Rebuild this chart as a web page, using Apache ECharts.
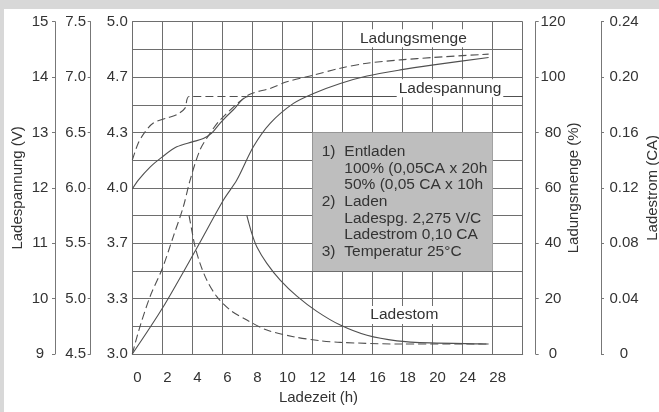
<!DOCTYPE html>
<html><head><meta charset="utf-8">
<script src="https://cdn.jsdelivr.net/npm/echarts@6/dist/echarts.min.js"></script>
<style>html,body{margin:0;padding:0;background:#fff}#c{width:659px;height:412px}</style>
</head><body><div id="c"></div>
<script>
// ---- tick labels ----
const xTickLabels = ['0','2','4','6','8','10','12','14','16','18','20','24','28'];
const gridTickLabels = ['3.0','','3.3','','3.7','','4.0','','4.3','','4.7','','5.0'];

// ---- Ladespannung (V) ----
const tVolt100 = [0, 0.4, 1.2, 2, 2.96, 4, 4.73, 5.29, 5.85, 6.73, 7.73, 26];
const volt100  = [11.98, 12.14, 12.38, 12.56, 12.74, 12.83, 12.89, 12.99, 13.17, 13.41, 13.65, 13.65];
const tVolt50  = [0, 0.4, 0.85, 1.4, 2.29, 2.96, 3.51, 3.78, 7.73];
const volt50   = [12.50, 12.81, 13.01, 13.17, 13.26, 13.32, 13.44, 13.65, 13.65];

// ---- Ladungsmenge (%) ----
const tCharge100 = [0, 2, 4.29, 6.07, 6.96, 8.07, 9.18, 10.73, 12.07, 13.85, 15.63, 17.85, 20.07, 23.73];
const charge100  = [0, 16.5, 38.2, 55.6, 62.8, 74.9, 83.3, 90.5, 94.1, 97.7, 100.4, 102.6, 104.4, 107.1];
const tCharge50  = [0, 0.51, 1.18, 2, 2.73, 3.4, 3.85, 4.51, 5.18, 5.85, 7.73, 9.18, 10.29, 12.07, 13.85, 15.63, 17.85, 20.07, 23.73];
const charge50   = [0, 9.9, 20.7, 30.9, 42.4, 53.2, 62.8, 73.7, 79.7, 84.5, 93.5, 95.9, 98.3, 100.7, 103.2, 105, 106.2, 107.1, 108.3];

// ---- Ladestrom (CA) ----
const tCurrent100 = [7.63, 7.96, 8.29, 8.96, 9.85, 10.96, 12.29, 13.85, 15.63, 17.63, 19.85, 23.18, 23.73];
const current100  = [0.1, 0.0871, 0.0775, 0.0655, 0.0534, 0.0418, 0.0308, 0.0209, 0.0135, 0.0095, 0.0080, 0.0073, 0.0072];
const tCurrent50  = [3.78, 3.96, 4.18, 4.51, 4.96, 5.63, 6.51, 7.63, 8.96, 10.73, 12.51, 13.85, 17.85, 23.73];
const current50   = [0.1, 0.0895, 0.0775, 0.0655, 0.0534, 0.0414, 0.0318, 0.0245, 0.0173, 0.0125, 0.0096, 0.0084, 0.0072, 0.0072];

// ---- annotation texts ----
const noteLines = [
  ['1)', 'Entladen'],
  ['', '100% (0,05CA x 20h'],
  ['', '50% (0,05 CA x 10h'],
  ['2)', 'Laden'],
  ['', 'Ladespg. 2,275 V/C'],
  ['', 'Ladestrom 0,10 CA'],
  ['3)', 'Temperatur 25°C']
];

const FONT = '"Liberation Sans", Arial, Helvetica, sans-serif';
const TXT = '#333';
const GRID = '#6e6e6e';
const AXC = '#777';
const CURVE = '#505050';
const FS = 15;

const zip = (a, b) => a.map((t, i) => [t, b[i]]);
function curve(name, t, v, yIdx, dashed) {
  return {
    name, type: 'line', xAxisIndex: 0, yAxisIndex: yIdx, data: zip(t, v),
    showSymbol: false, symbol: 'none', smooth: 0.3, silent: true, z: 3,
    lineStyle: { color: CURVE, width: 1.1, type: dashed ? [8, 4] : 'solid' }
  };
}
const lbl = (extra) => Object.assign({ color: TXT, fontSize: FS, fontFamily: FONT, align: 'center' }, extra);
const nameStyle = { color: TXT, fontSize: FS, fontFamily: FONT };
const axLine = { show: true, lineStyle: { color: AXC, width: 1 } };
const tick = { show: true, length: 3, lineStyle: { color: AXC } };

const chart = echarts.init(document.getElementById('c'), null, { renderer: 'canvas' });
chart.setOption({
  animation: false,
  backgroundColor: '#fff',
  textStyle: { fontFamily: FONT },
  grid: { left: 132.3, top: 21.7, right: 136.3, bottom: 58, containLabel: false, outerBoundsMode: 'none' },
  xAxis: {
    type: 'value', min: 0, max: 26, interval: 2,
    axisLine: { show: true, lineStyle: { color: GRID } }, axisTick: { show: false },
    splitLine: { show: true, lineStyle: { color: GRID, width: 1 } },
    axisLabel: lbl({ formatter: v => xTickLabels[Math.round(v / 2)] ?? '', margin: 16, padding: [0, 0, 0, 10] }),
    name: 'Ladezeit (h)', nameLocation: 'middle', nameGap: 36, nameMoveOverlap: false,
    nameTextStyle: Object.assign({ padding: [0, 18, 0, 0] }, nameStyle)
  },
  yAxis: [
    { type: 'value', min: 0, max: 12, interval: 1, position: 'left',
      axisLine: { show: true, lineStyle: { color: GRID } }, axisTick: { show: false },
      splitLine: { show: true, lineStyle: { color: GRID, width: 1 } },
      axisLabel: lbl({ formatter: v => gridTickLabels[v] ?? '', margin: 15 }) },
    { type: 'value', min: 9, max: 15, interval: 1, position: 'left', offset: 77.3,
      axisLine: axLine, axisTick: tick, splitLine: { show: false },
      axisLabel: lbl({ margin: 15 }),
      name: 'Ladespannung (V)', nameLocation: 'middle', nameGap: 30, nameMoveOverlap: false,
      nameTextStyle: nameStyle },
    { type: 'value', min: 4.5, max: 7.5, interval: 0.5, position: 'left', offset: 41.6,
      axisLine: axLine, axisTick: tick, splitLine: { show: false },
      axisLabel: lbl({ margin: 15, formatter: v => v.toFixed(1) }) },
    { type: 'value', min: 0, max: 120, interval: 20, position: 'right', offset: 13,
      axisLine: axLine, axisTick: tick, splitLine: { show: false },
      axisLabel: lbl({ margin: 17.3 }),
      name: 'Ladungsmenge (%)', nameLocation: 'middle', nameGap: 31, nameMoveOverlap: false,
      nameTextStyle: nameStyle },
    { type: 'value', min: 0, max: 0.24, interval: 0.04, position: 'right', offset: 78.3,
      axisLine: axLine, axisTick: tick, splitLine: { show: false },
      axisLabel: lbl({ margin: 23, formatter: v => v === 0 ? '0' : v.toFixed(2) }),
      name: 'Ladestrom (CA)', nameLocation: 'middle', nameGap: 44, nameMoveOverlap: false,
      nameTextStyle: nameStyle }
  ],
  series: [
    curve('Ladespannung 100%', tVolt100, volt100, 1, false),
    curve('Ladespannung 50%', tVolt50, volt50, 1, true),
    curve('Ladungsmenge 100%', tCharge100, charge100, 3, false),
    curve('Ladungsmenge 50%', tCharge50, charge50, 3, true),
    curve('Ladestrom 100%', tCurrent100, current100, 4, false),
    curve('Ladestrom 50%', tCurrent50, current50, 4, true)
  ]
});

// annotation box in grid units of the 3.0–5.0 axis
const p0 = chart.convertToPixel({ xAxisIndex: 0, yAxisIndex: 0 }, [12, 8]);
const p1 = chart.convertToPixel({ xAxisIndex: 0, yAxisIndex: 0 }, [24, 3]);
const font = FS + 0.5 + 'px ' + FONT;
const graphics = [
  { type: 'rect', shape: { x: 0, y: 0, width: 659, height: 9 }, style: { fill: '#d8d8d8' }, z: 200 },
  { type: 'rect', shape: { x: 0, y: 0, width: 4, height: 412 }, style: { fill: '#d8d8d8' }, z: 200 },
  { type: 'rect', shape: { x: p0[0], y: p0[1], width: p1[0] - p0[0], height: p1[1] - p0[1] }, style: { fill: '#bebebe' }, z: 100 }
];
noteLines.forEach((ln, i) => {
  const y = 151.7 + i * 16.67;
  if (ln[0]) graphics.push({ type: 'text', x: 321.7, y, z: 101, style: { text: ln[0], fill: TXT, font, verticalAlign: 'middle' } });
  graphics.push({ type: 'text', x: 344.3, y, z: 101, style: { text: ln[1], fill: TXT, font, verticalAlign: 'middle' } });
});
[['Ladungsmenge', 358, 38.3], ['Ladespannung', 396.7, 88.3], ['Ladestom', 368.3, 315]].forEach(([t, x, y]) => {
  graphics.push({ type: 'text', x, y, z: 101, style: { text: t, fill: TXT, font, verticalAlign: 'middle', backgroundColor: '#fff', padding: [2, 2, 0, 2] } });
});
chart.setOption({ graphic: graphics });
</script></body></html>
